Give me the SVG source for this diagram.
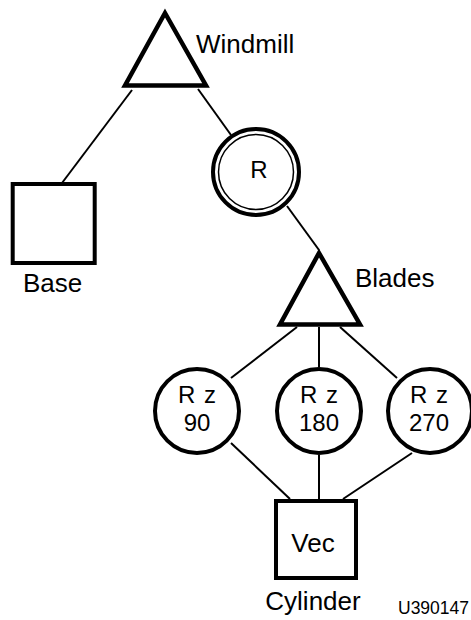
<svg xmlns="http://www.w3.org/2000/svg" width="471" height="620" viewBox="0 0 471 620">
<style>
.shape{fill:#fff;stroke:#000;stroke-width:4.5;stroke-linejoin:miter}
.circ{fill:#fff;stroke:#000;stroke-width:4}
.thin{fill:none;stroke:#000;stroke-width:1.5}
.edge{stroke:#000;stroke-width:2;fill:none}
text{font-family:"Liberation Sans",Arial,sans-serif;font-size:26px;fill:#000}
.c{text-anchor:middle}
.n{font-size:24px}
</style>
<rect width="471" height="620" fill="#fff"/>
<g id="connectors">
<line class="edge" x1="132" y1="90" x2="62" y2="183"/>
<line class="edge" x1="198" y1="89" x2="231" y2="135"/>
<line class="edge" x1="287" y1="206" x2="319" y2="250"/>
<line class="edge" x1="297" y1="327" x2="231" y2="378"/>
<line class="edge" x1="319" y1="327" x2="319" y2="367"/>
<line class="edge" x1="340" y1="327" x2="397" y2="378"/>
<line class="edge" x1="231" y1="443" x2="290" y2="499"/>
<line class="edge" x1="319" y1="455" x2="319" y2="499"/>
<line class="edge" x1="412" y1="453" x2="343" y2="499"/>
</g>
<g id="windmill">
<polygon class="shape" points="165,13 125,85.5 206,85.5"/>
<text x="196" y="53">Windmill</text>
</g>
<g id="base">
<rect class="shape" x="12.7" y="184" width="82" height="79" style="stroke-width:4"/>
<text x="23" y="292">Base</text>
</g>
<g id="rotate">
<circle class="circ" cx="256" cy="172" r="43"/>
<circle class="thin" cx="256" cy="172" r="37.5"/>
<text class="c" x="259" y="178" style="font-size:24px">R</text>
</g>
<g id="blades">
<polygon class="shape" points="319,253 280,324.5 360,324.5"/>
<text x="355" y="287">Blades</text>
</g>
<g id="rz90">
<circle class="circ" cx="197" cy="411" r="42"/>
<text class="c n" x="197" y="403" style="word-spacing:2px">R z</text>
<text class="c n" x="197" y="431">90</text>
</g>
<g id="rz180">
<circle class="circ" cx="319" cy="411" r="42"/>
<text class="c n" x="319" y="403" style="word-spacing:2px">R z</text>
<text class="c n" x="319" y="431">180</text>
</g>
<g id="rz270">
<circle class="circ" cx="430" cy="411" r="42"/>
<text class="c n" x="429" y="403" style="word-spacing:2px">R z</text>
<text class="c n" x="429" y="431">270</text>
</g>
<g id="cylinder">
<rect class="shape" x="276" y="501" width="80" height="77" style="stroke-width:4"/>
<text class="c" x="313" y="552">Vec</text>
<text class="c" x="313" y="610">Cylinder</text>
</g>
<text x="398" y="614" style="font-size:17.5px">U390147</text>
</svg>
